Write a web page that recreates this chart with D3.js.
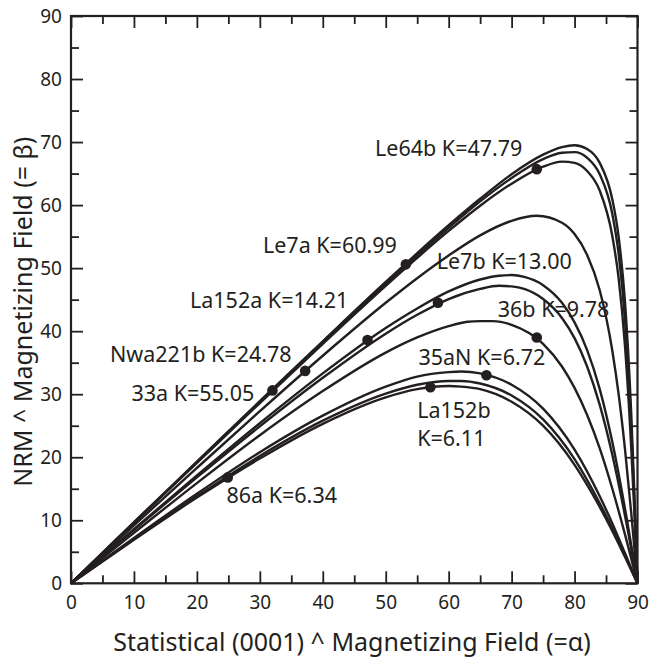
<!DOCTYPE html>
<html>
<head>
<meta charset="utf-8">
<script src="https://cdn.jsdelivr.net/npm/d3@7"></script>
<style>
  html, body { margin: 0; padding: 0; background: #fff; }
  svg { display: block; }
  text { font-family: "Noto Sans", "Open Sans", sans-serif; fill: #231f20; }
</style>
</head>
<body>
<svg id="chart" width="658" height="660"></svg>
<script>
// ---------- data ----------
const samples = ["Le7a", "33a", "Le64b", "Nwa221b", "La152a", "Le7b", "36b", "35aN", "86a", "La152b"];
const kValues = [60.99, 55.05, 47.79, 24.78, 14.21, 13.00, 9.78, 6.72, 6.34, 6.11];

// alpha grids
const alphaTop = [0, 10, 20, 30, 40, 50, 60, 65, 70, 75, 78, 80, 82, 84, 86, 87, 88, 89, 89.5, 90];
const alphaMid = [0, 10, 20, 30, 40, 50, 55, 60, 65, 70, 74, 78, 80, 82, 84, 86, 87, 88, 89, 90];
const alphaPair = [0, 10, 20, 30, 40, 50, 55, 60, 65, 68, 70, 72, 75, 78, 80, 82, 84, 86, 88, 90];
const alpha36b = [0, 10, 20, 30, 40, 50, 55, 60, 63, 65, 67, 70, 75, 78, 80, 82, 84, 86, 88, 90];
const alphaLow = [0, 10, 20, 30, 40, 50, 55, 60, 62, 65, 70, 75, 80, 84, 86, 88, 90];

// beta values of each curve
const betaLe7a    = [0, 9.7, 19.3, 28.9, 38.4, 47.8, 56.8, 61.0, 64.9, 68.0, 69.2, 69.5, 68.9, 66.7, 60.9, 55.0, 44.8, 27.0, 14.4, 0];
const beta33a     = [0, 9.6, 19.2, 28.8, 38.3, 47.5, 56.4, 60.6, 64.3, 67.3, 68.3, 68.4, 67.5, 64.9, 58.6, 52.3, 41.9, 24.7, 13.0, 0];
const betaLe64b   = [0, 9.6, 19.1, 28.6, 38.0, 47.2, 55.9, 59.9, 63.4, 66.1, 66.9, 66.7, 65.4, 62.3, 55.1, 48.4, 37.8, 21.6, 11.3, 0];
const betaNwa221b = [0, 9.2, 18.3, 27.3, 36.1, 44.5, 48.4, 52.0, 55.2, 57.5, 58.3, 57.2, 55.4, 52.1, 46.5, 36.9, 30.0, 21.4, 11.2, 0];
const betaLa152a  = [0, 8.6, 17.1, 25.4, 33.3, 40.5, 43.6, 46.3, 48.2, 48.8, 48.9, 48.6, 47.3, 44.5, 41.4, 37.0, 30.8, 22.4, 11.9, 0];
const betaLe7b    = [0, 8.5, 16.8, 24.9, 32.6, 39.6, 42.6, 45.1, 46.7, 47.2, 47.1, 46.7, 45.1, 42.1, 38.9, 34.4, 28.3, 20.4, 10.8, 0];
const beta36b     = [0, 8.0, 15.9, 23.5, 30.5, 36.6, 39.0, 40.8, 41.5, 41.6, 41.6, 41.0, 38.0, 34.4, 31.0, 26.7, 21.4, 15.0, 7.8, 0];
const beta35aN    = [0, 7.2, 14.2, 20.8, 26.6, 31.2, 32.8, 33.5, 33.6, 33.3, 31.5, 27.7, 21.2, 13.8, 9.5, 4.8, 0];
const beta86a     = [0, 7.0, 13.8, 20.2, 25.8, 30.1, 31.5, 32.1, 32.1, 31.7, 29.8, 26.0, 19.7, 12.7, 8.7, 4.4, 0];
const betaLa152b  = [0, 6.9, 13.6, 19.8, 25.3, 29.5, 30.8, 31.3, 31.2, 30.8, 28.8, 25.0, 18.8, 12.1, 8.3, 4.2, 0];

// measured sample points (dots)
const dotAlpha = [53.2, 32.0, 74.0, 37.2, 47.1, 58.3, 74.0, 66.0, 24.9, 57.1];
const dotBeta  = [50.6, 30.6, 65.7, 33.7, 38.6, 44.5, 39.0, 33.0, 16.8, 31.1];

// axis ticks
const majorTicks = [0, 10, 20, 30, 40, 50, 60, 70, 80, 90];
const minorTicks = [5, 15, 25, 35, 45, 55, 65, 75, 85];

const xTitle = "Statistical (0001) ^ Magnetizing Field (=\u03b1)";
const yTitle = "NRM ^ Magnetizing Field (= \u03b2)";

// ---------- layout ----------
const curves = [
  [alphaTop, betaLe7a], [alphaTop, beta33a], [alphaTop, betaLe64b],
  [alphaMid, betaNwa221b], [alphaPair, betaLa152a], [alphaPair, betaLe7b],
  [alpha36b, beta36b], [alphaLow, beta35aN], [alphaLow, beta86a], [alphaLow, betaLa152b]
];
// label anchors (left, baseline) in data units
const labelPos = [[30.5, 52.4], [9.6, 29.0], [48.3, 67.8], [6.2, 35.1], [18.9, 43.7],
                  [58.1, 49.8], [67.8, 42.3], [55.2, 34.7], [24.7, 12.7], [55.0, 26.3]];

const svg = d3.select("#chart");
const x = d3.scaleLinear().domain([0, 90]).range([71, 637.5]);
const y = d3.scaleLinear().domain([0, 90]).range([583.3, 16]);
const ink = "#231f20";
const fs = 19;
const lfs = 21.5;

// curves
const line = d3.line().x(d => x(d[0])).y(d => y(d[1])).curve(d3.curveMonotoneX);
svg.append("g").selectAll("path").data(curves).join("path")
  .attr("d", c => line(c[0].map((a, i) => [a, c[1][i]])))
  .attr("fill", "none").attr("stroke", ink).attr("stroke-width", 2.4)
  .attr("stroke-linejoin", "round");

// dots
svg.append("g").selectAll("circle").data(dotAlpha).join("circle")
  .attr("cx", (d, i) => x(d)).attr("cy", (d, i) => y(dotBeta[i])).attr("r", 5.3)
  .attr("fill", ink);

// labels
const lg = svg.append("g").attr("font-size", lfs);
samples.forEach((s, i) => {
  const t = lg.append("text").attr("x", x(labelPos[i][0])).attr("y", y(labelPos[i][1]));
  if (s === "La152b") {
    t.append("tspan").attr("x", x(labelPos[i][0])).text(s);
    t.append("tspan").attr("x", x(labelPos[i][0])).attr("dy", 28.7).text("K=" + kValues[i].toFixed(2));
  } else {
    t.text(s + " K=" + kValues[i].toFixed(2));
  }
});

// axes
function styleAxis(g) {
  g.select(".domain").remove();
  g.selectAll("line").attr("stroke", ink).attr("stroke-width", 1.8);
  g.selectAll("text").attr("font-size", fs).attr("fill", ink).attr("font-family", "Noto Sans, sans-serif");
}
svg.append("g").attr("transform", `translate(0,${y(0)})`)
  .call(d3.axisBottom(x).tickValues(majorTicks).tickSize(-12).tickPadding(12).tickFormat(d3.format("d")))
  .call(styleAxis);
svg.append("g").attr("transform", `translate(0,${y(0)})`)
  .call(d3.axisBottom(x).tickValues(minorTicks).tickSize(-8).tickFormat(""))
  .call(styleAxis);
svg.append("g").attr("transform", `translate(${x(0)},0)`)
  .call(d3.axisLeft(y).tickValues(majorTicks).tickSize(-12).tickPadding(9).tickFormat(d3.format("d")))
  .call(styleAxis);
svg.append("g").attr("transform", `translate(${x(0)},0)`)
  .call(d3.axisLeft(y).tickValues(minorTicks).tickSize(-8).tickFormat(""))
  .call(styleAxis);
svg.append("g").attr("transform", `translate(0,${y(90)})`)
  .call(d3.axisTop(x).tickValues(majorTicks).tickSize(-12).tickFormat(""))
  .call(styleAxis);
svg.append("g").attr("transform", `translate(0,${y(90)})`)
  .call(d3.axisTop(x).tickValues(minorTicks).tickSize(-8).tickFormat(""))
  .call(styleAxis);
svg.append("g").attr("transform", `translate(${x(90)},0)`)
  .call(d3.axisRight(y).tickValues(majorTicks).tickSize(-12).tickFormat(""))
  .call(styleAxis);
svg.append("g").attr("transform", `translate(${x(90)},0)`)
  .call(d3.axisRight(y).tickValues(minorTicks).tickSize(-8).tickFormat(""))
  .call(styleAxis);

// frame
svg.append("rect").attr("x", x(0)).attr("y", y(90))
  .attr("width", x(90) - x(0)).attr("height", y(0) - y(90))
  .attr("fill", "none").attr("stroke", ink).attr("stroke-width", 2.2);

// titles
svg.append("text").attr("x", 352).attr("y", 650.5)
  .attr("text-anchor", "middle").attr("font-size", 25).text(xTitle);
svg.append("text").attr("transform", `translate(32,${311.7}) rotate(-90)`)
  .attr("text-anchor", "middle").attr("font-size", 25).text(yTitle);
</script>
</body>
</html>
